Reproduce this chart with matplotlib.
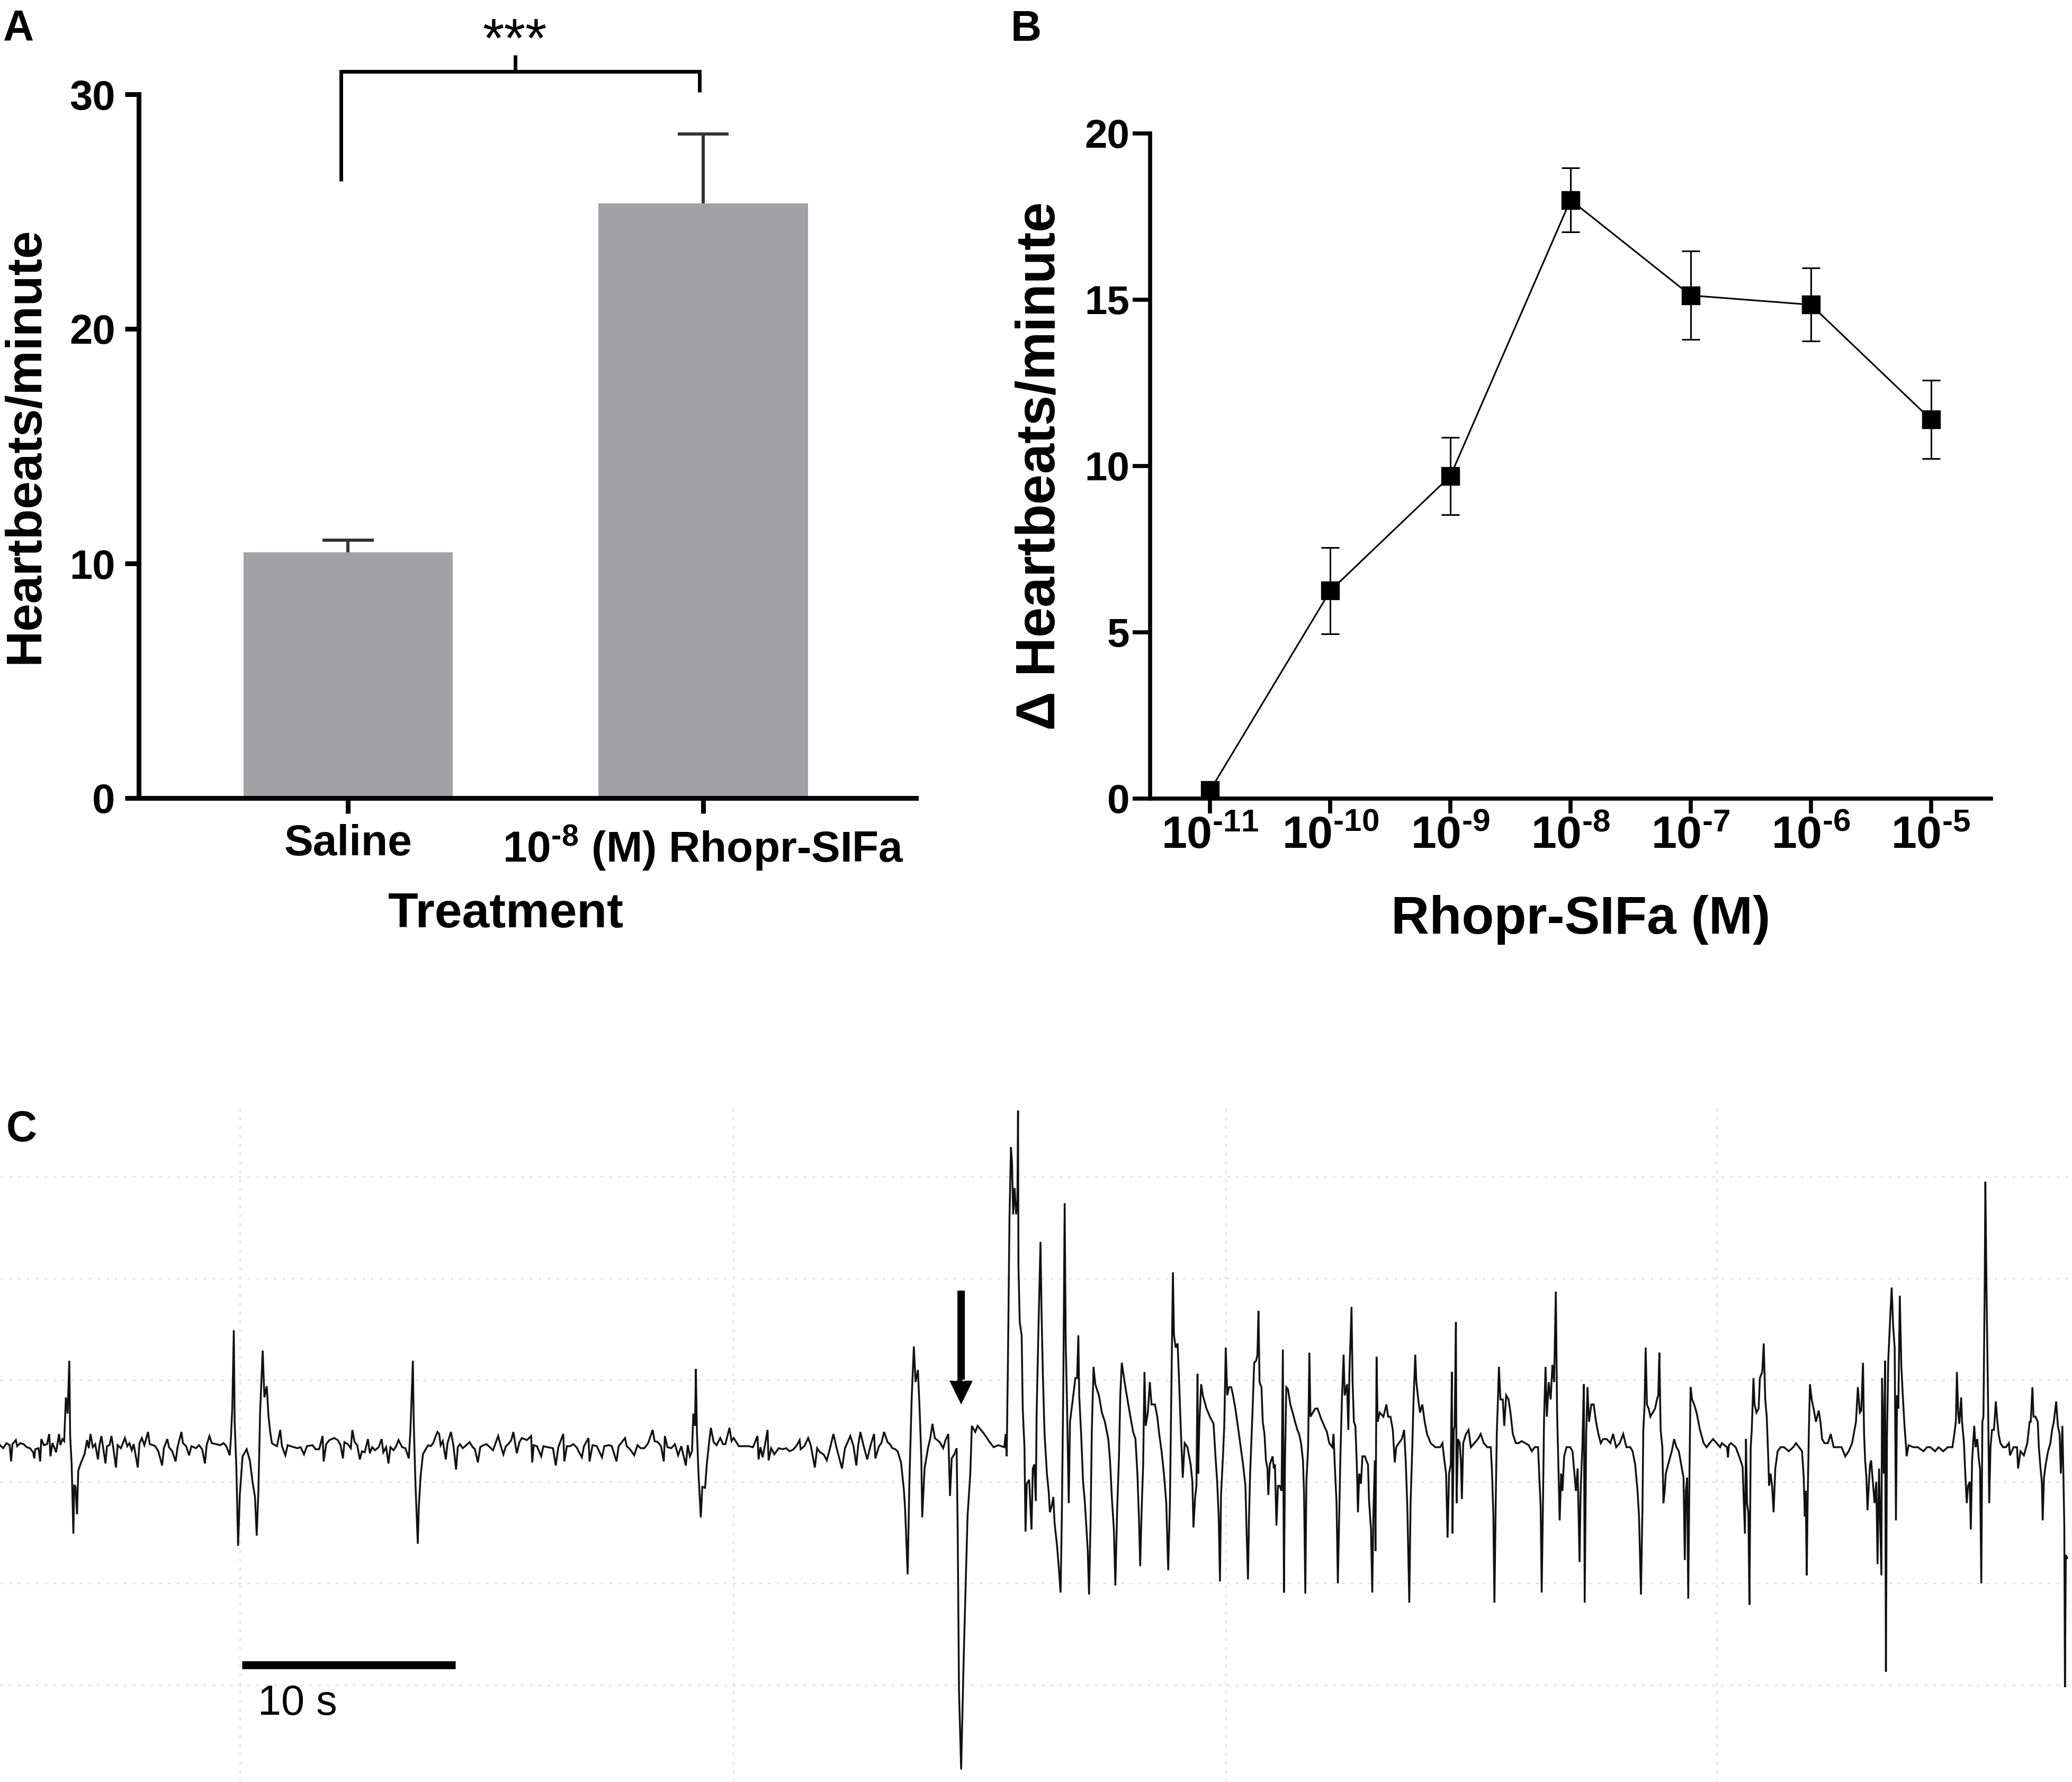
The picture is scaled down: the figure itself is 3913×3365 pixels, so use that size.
import matplotlib
matplotlib.use('Agg')
import matplotlib.pyplot as plt
from matplotlib.patches import FancyArrow
import numpy as np

plt.rcParams['font.family'] = ['Liberation Sans', 'DejaVu Sans']
plt.rcParams['font.weight'] = 'bold'
plt.rcParams['mathtext.fontset'] = 'custom'
plt.rcParams['mathtext.rm'] = 'Liberation Sans:bold'
plt.rcParams['mathtext.bf'] = 'Liberation Sans:bold'
plt.rcParams['mathtext.it'] = 'Liberation Sans:italic'

# ---------------- data ----------------
# Panel A
treatments = ['Saline', r'$\mathbf{10^{\text{-}8}}$ (M) Rhopr-SIFa']
a_means = [10.47, 25.34]
a_sems = [0.53, 2.96]
a_yticks = [0, 10, 20, 30]

# Panel B
b_log_conc = [-11, -10, -9, -8, -7, -6, -5]
b_means = [0.25, 6.25, 9.70, 18.00, 15.13, 14.85, 11.40]
b_sems = [0.20, 1.30, 1.16, 0.96, 1.33, 1.10, 1.18]
b_xticklabels = [r'$\mathbf{10^{\text{-}11}}$', r'$\mathbf{10^{\text{-}10}}$', r'$\mathbf{10^{\text{-}9}}$',
                 r'$\mathbf{10^{\text{-}8}}$', r'$\mathbf{10^{\text{-}7}}$', r'$\mathbf{10^{\text{-}6}}$',
                 r'$\mathbf{10^{\text{-}5}}$']
b_yticks = [0, 5, 10, 15, 20]

# Panel C: recording trace (time in s, amplitude in grid divisions)
seg_saline = [
    (0.00, 0.36), (0.15, 0.33), (0.30, 0.38), (0.45, 0.36), (0.52, 0.20), (0.58, 0.37), (0.74, 0.41),
    (0.80, 0.35), (0.95, 0.38), (1.10, 0.37), (1.25, 0.34), (1.40, 0.33), (1.55, 0.29), (1.60, 0.23),
    (1.65, 0.32), (1.80, 0.33), (1.88, 0.20), (1.93, 0.42), (2.05, 0.36), (2.20, 0.37), (2.30, 0.47),
    (2.36, 0.25), (2.45, 0.38), (2.55, 0.33), (2.62, 0.29), (2.70, 0.39), (2.76, 0.47), (2.82, 0.36),
    (2.92, 0.42), (3.00, 0.40),
    (3.08, 0.83), (3.16, 0.67), (3.24, 1.19), (3.28, 0.45), (3.35, 0.17), (3.43, -0.51), (3.47, -0.03),
    (3.53, -0.05), (3.60, -0.32), (3.66, 0.11), (3.79, 0.19), (3.95, 0.27), (4.07, 0.41), (4.15, 0.33),
    (4.23, 0.47), (4.34, 0.34),
    (4.45, 0.37), (4.58, 0.22), (4.65, 0.36), (4.74, 0.45), (4.82, 0.34), (4.93, 0.18), (5.00, 0.35),
    (5.12, 0.36), (5.21, 0.45), (5.30, 0.33), (5.42, 0.14), (5.50, 0.36), (5.65, 0.33), (5.84, 0.43),
    (5.95, 0.35), (6.05, 0.38), (6.16, 0.31), (6.25, 0.37), (6.44, 0.14), (6.52, 0.38), (6.63, 0.43),
    (6.75, 0.36), (6.92, 0.49), (7.00, 0.37), (7.15, 0.36), (7.26, 0.35), (7.40, 0.30), (7.58, 0.16),
    (7.66, 0.33), (7.82, 0.42), (7.90, 0.34), (8.05, 0.30), (8.21, 0.20), (8.30, 0.34), (8.48, 0.49),
    (8.55, 0.38), (8.70, 0.35), (8.84, 0.26), (8.95, 0.35), (9.16, 0.33), (9.30, 0.36), (9.45, 0.32),
    (9.58, 0.18), (9.66, 0.36), (9.79, 0.45), (9.90, 0.38), (10.11, 0.37), (10.30, 0.36), (10.45, 0.38),
    (10.58, 0.35), (10.74, 0.26), (10.80, 0.45),
    (10.86, 0.73), (10.93, 1.49), (10.97, 0.59), (11.05, 0.13), (11.13, -0.63), (11.21, -0.13),
    (11.34, 0.25), (11.53, 0.32), (11.68, 0.21), (11.81, -0.01), (11.92, -0.15), (12.00, -0.53),
    (12.08, -0.09), (12.16, 0.69), (12.28, 1.29), (12.36, 0.83), (12.47, 0.94), (12.55, 0.65),
    (12.63, 0.49), (12.71, 0.38), (12.85, 0.36), (12.95, 0.35), (13.10, 0.51), (13.18, 0.35),
    (13.34, 0.26), (13.45, 0.36), (13.58, 0.35), (13.75, 0.34), (13.90, 0.33), (14.05, 0.34), (14.21, 0.27),
    (14.35, 0.35), (14.61, 0.36), (14.75, 0.32), (14.92, 0.32), (15.08, 0.45), (15.13, 0.20), (15.25, 0.37),
    (15.40, 0.41), (15.63, 0.43), (15.79, 0.41), (15.92, 0.36), (16.03, 0.23), (16.10, 0.39), (16.26, 0.37),
    (16.40, 0.33), (16.47, 0.51), (16.58, 0.39), (16.70, 0.36), (16.82, 0.22), (16.92, 0.30), (17.05, 0.29),
    (17.20, 0.42), (17.29, 0.28), (17.40, 0.34), (17.53, 0.31), (17.70, 0.34), (17.84, 0.42), (17.92, 0.29),
    (18.05, 0.34), (18.16, 0.18), (18.25, 0.34), (18.40, 0.31), (18.52, 0.35), (18.63, 0.41), (18.80, 0.34),
    (18.95, 0.33), (19.11, 0.23),
    (19.18, 0.48), (19.23, 0.76), (19.30, 1.19), (19.34, 0.59), (19.42, -0.01), (19.53, -0.61),
    (19.58, -0.24), (19.66, 0.05), (19.77, 0.27), (19.90, 0.32), (20.02, 0.36), (20.13, 0.35),
    (20.25, 0.38), (20.37, 0.45), (20.45, 0.49),
    (20.53, 0.47), (20.60, 0.36), (20.70, 0.40), (20.84, 0.22), (20.92, 0.38), (21.08, 0.49), (21.20, 0.35),
    (21.32, 0.12), (21.40, 0.34), (21.50, 0.37), (21.63, 0.33), (21.80, 0.36), (21.95, 0.39), (22.10, 0.34),
    (22.20, 0.32), (22.34, 0.19), (22.45, 0.34), (22.60, 0.36), (22.74, 0.37), (22.90, 0.34), (23.05, 0.31),
    (23.20, 0.40), (23.29, 0.45), (23.40, 0.36), (23.53, 0.27), (23.65, 0.35), (23.76, 0.37), (23.90, 0.41),
    (24.00, 0.49), (24.08, 0.38), (24.16, 0.28), (24.28, 0.39), (24.40, 0.43), (24.52, 0.42), (24.63, 0.41),
]
seg_application = [
    (24.83, 0.45), (24.88, 0.19), (24.95, 0.36), (25.10, 0.35), (25.30, 0.25), (25.40, 0.35), (25.60, 0.34),
    (25.85, 0.33), (25.98, 0.16), (26.10, 0.34), (26.33, 0.47), (26.38, 0.20), (26.50, 0.35), (26.65, 0.35),
    (26.80, 0.37), (26.95, 0.34), (27.20, 0.24), (27.30, 0.35), (27.51, 0.43), (27.56, 0.20), (27.70, 0.36),
    (27.90, 0.35), (28.14, 0.24), (28.25, 0.35), (28.46, 0.36), (28.60, 0.35), (28.82, 0.20), (28.92, 0.35),
    (29.22, 0.43), (29.30, 0.35), (29.45, 0.32), (29.65, 0.26), (29.80, 0.36), (29.95, 0.33), (30.12, 0.33),
    (30.30, 0.38), (30.51, 0.51), (30.60, 0.40), (30.75, 0.39), (30.90, 0.35), (31.03, 0.20), (31.08, 0.45),
    (31.20, 0.34), (31.38, 0.33), (31.55, 0.37), (31.70, 0.26), (31.85, 0.35), (32.06, 0.16), (32.15, 0.36),
    (32.25, 0.25),
    (32.35, 0.30), (32.41, 0.67), (32.49, 0.55), (32.53, 1.11), (32.58, 0.49), (32.65, 0.09), (32.76, -0.35),
    (32.83, -0.05), (32.96, -0.06), (33.04, 0.17), (33.15, 0.39), (33.23, 0.53), (33.36, 0.39),
    (33.50, 0.36), (33.67, 0.43), (33.80, 0.37), (33.91, 0.37), (34.10, 0.53), (34.20, 0.40), (34.30, 0.43),
    (34.54, 0.35), (34.75, 0.35), (35.01, 0.35), (35.20, 0.34), (35.41, 0.45), (35.46, 0.22), (35.55, 0.34),
    (35.65, 0.24), (35.75, 0.35), (35.88, 0.51), (35.93, 0.21), (36.05, 0.33), (36.20, 0.27), (36.40, 0.33),
    (36.59, 0.32), (36.75, 0.33), (36.91, 0.30), (37.10, 0.32), (37.25, 0.36), (37.38, 0.41), (37.43, 0.32),
    (37.60, 0.35), (37.78, 0.43), (37.90, 0.36), (38.09, 0.14), (38.20, 0.33), (38.33, 0.29), (38.50, 0.27),
    (38.65, 0.21), (38.80, 0.33), (38.96, 0.47), (39.10, 0.34), (39.36, 0.13), (39.50, 0.33), (39.75, 0.45),
    (39.90, 0.35), (40.03, 0.16), (40.12, 0.36), (40.22, 0.49), (40.35, 0.37), (40.54, 0.22), (40.70, 0.36),
    (40.86, 0.47), (40.92, 0.23), (41.09, 0.35), (41.20, 0.38), (41.33, 0.49), (41.49, 0.39), (41.60, 0.37),
    (41.72, 0.33), (41.85, 0.32), (41.96, 0.30),
    (42.12, 0.19), (42.25, -0.07), (42.31, -0.26), (42.43, -0.91), (42.51, -0.01), (42.62, 0.83),
    (42.72, 1.33), (42.80, 0.98), (42.91, 1.10), (42.99, 0.71), (43.07, 0.23), (43.11, -0.35),
    (43.22, 0.13), (43.38, 0.33), (43.49, 0.43), (43.59, 0.57), (43.70, 0.43), (43.93, 0.39),
    (44.09, 0.33), (44.20, 0.41), (44.33, 0.47), (44.41, -0.14), (44.49, 0.23), (44.61, 0.27),
    (44.72, 0.33), (44.77, -0.49), (44.83, -2.05), (44.93, -2.83), (45.06, -1.65), (45.23, -0.34),
    (45.36, 0.09), (45.43, 0.55), (45.59, 0.49), (45.70, 0.55),
]
seg_response1 = [
    (46.01, 0.47), (46.23, 0.40), (46.45, 0.34), (46.67, 0.36), (46.95, 0.34), (47.01, 0.47), (47.06, 0.25),
    (47.12, 1.21), (47.19, 2.59), (47.26, 3.29), (47.31, 3.14), (47.36, 2.63), (47.43, 2.89), (47.50, 2.63),
    (47.56, 2.76), (47.59, 3.65), (47.61, 2.12), (47.67, 1.57), (47.76, 1.44), (47.81, 0.72), (47.89, 0.34),
    (47.94, -0.49), (48.00, -0.02), (48.11, 0.02), (48.22, -0.47), (48.28, 0.13), (48.35, 0.17),
    (48.42, -0.19), (48.46, 0.68), (48.55, 1.55), (48.64, 2.36), (48.69, 1.66), (48.75, 1.06), (48.83, 0.47),
    (48.94, 0.08), (49.02, -0.09), (49.08, -0.30), (49.16, -0.24), (49.24, -0.15), (49.30, -0.41),
    (49.41, -0.62), (49.49, -0.83), (49.58, -1.09), (49.64, -0.30), (49.71, 1.02), (49.77, 2.74),
    (49.82, 1.36), (49.88, 0.76), (49.96, -0.21), (50.02, 0.59), (50.15, 0.81), (50.27, 1.02), (50.35, 1.02),
    (50.41, 1.44), (50.45, 0.85), (50.54, 0.47), (50.63, 0.00), (50.71, -0.19), (50.78, -0.43),
    (50.85, -0.68), (50.91, -1.11), (50.98, -0.41), (51.04, 0.51), (51.12, 1.13), (51.20, 0.96),
    (51.37, 0.85), (51.51, 0.68), (51.65, 0.59), (51.81, 0.42), (51.89, 0.21), (51.98, -0.17),
    (52.07, -0.47), (52.14, -1.02), (52.22, -0.30), (52.31, 0.25), (52.37, 0.85), (52.44, 1.17),
    (52.53, 1.04), (52.64, 0.89), (52.81, 0.68), (52.97, 0.49), (53.08, 0.42), (53.17, 0.08),
    (53.25, -0.41), (53.30, -0.83), (53.37, -0.26), (53.44, 0.17), (53.50, 1.08), (53.56, 0.55),
    (53.66, 0.68), (53.75, 0.98), (53.83, 0.76), (53.99, 0.76), (54.10, 0.64), (54.19, 0.47),
    (54.30, 0.30), (54.41, 0.08), (54.52, -0.21), (54.61, -0.87), (54.69, -0.21), (54.76, 0.93),
    (54.83, 2.06), (54.88, 1.44), (54.96, 1.32), (55.05, 1.36), (55.13, 0.93), (55.20, 0.51),
    (55.29, 0.04), (55.38, 0.38), (55.51, 0.34), (55.66, 0.17), (55.74, 0.00), (55.79, -0.45),
    (55.87, -0.15), (55.93, -0.04), (55.98, 1.06), (56.01, 0.08), (56.07, 0.59), (56.15, 0.96),
    (56.23, 0.85), (56.40, 0.72), (56.56, 0.64), (56.73, 0.57), (56.82, 0.25), (56.90, 0.00),
    (56.97, -0.34), (57.03, -0.98), (57.08, -0.13), (57.17, 0.25), (57.23, 0.55), (57.30, 1.32),
    (57.37, 0.85), (57.45, 0.93), (57.56, 0.93), (57.64, 0.85), (57.75, 0.72), (57.89, 0.51),
    (58.00, 0.34), (58.11, 0.17), (58.22, -0.04), (58.28, -0.53), (58.34, -0.96), (58.39, -0.34),
    (58.44, 0.08), (58.55, 0.68), (58.63, 1.17), (58.72, 1.19), (58.78, 1.25), (58.83, 1.68),
    (58.88, 0.98), (58.97, 0.93), (59.03, 0.59), (59.11, 0.47), (59.18, 0.21), (59.25, 0.13),
    (59.29, -0.13), (59.36, 0.17), (59.49, 0.25), (59.55, 0.13), (59.60, 0.17), (59.67, -0.43),
    (59.74, -0.04), (59.82, -0.04), (59.91, -0.09), (59.97, 1.30), (60.02, -1.09), (60.07, 0.21),
    (60.13, 0.93), (60.21, 0.91), (60.32, 0.76), (60.43, 0.68), (60.54, 0.59), (60.65, 0.51),
    (60.73, 0.47), (60.82, 0.38), (60.91, 0.21), (60.96, -0.11), (61.02, -1.10), (61.07, 0.00),
    (61.15, 0.34), (61.21, 1.27), (61.26, 0.64), (61.37, 0.68), (61.48, 0.72), (61.59, 0.72),
    (61.76, 0.62), (61.90, 0.55), (62.03, 0.49), (62.14, 0.38), (62.28, 0.34), (62.34, 0.47),
    (62.40, 0.15), (62.48, -0.21), (62.54, -1.00), (62.61, -0.26), (62.66, 0.25), (62.73, 0.81),
    (62.81, 1.25), (62.86, 0.85), (62.97, 0.96), (63.03, 0.51), (63.08, 1.06),
]
seg_response2 = [
    (63.18, 1.72), (63.23, 0.98), (63.29, 0.59), (63.36, 0.55), (63.43, 0.15), (63.48, -0.30), (63.54, 0.08),
    (63.62, -0.02), (63.69, 0.25), (63.81, 0.25), (63.87, 0.21), (63.95, 0.17), (64.00, -0.19),
    (64.09, -0.47), (64.15, -1.09), (64.20, -0.34), (64.27, 0.21), (64.30, -0.68), (64.35, 1.23),
    (64.40, 0.59), (64.50, 0.68), (64.67, 0.64), (64.81, 0.76), (64.89, 0.64), (65.00, 0.64),
    (65.11, 0.51), (65.20, 0.19), (65.27, 0.34), (65.39, 0.38), (65.53, 0.42), (65.64, 0.51),
    (65.72, 0.17), (65.79, -0.26), (65.88, -1.19), (65.94, -0.21), (66.02, 0.34), (66.08, 0.81),
    (66.16, 1.25), (66.21, 0.98), (66.30, 0.81), (66.38, 0.68), (66.49, 0.76), (66.60, 0.59),
    (66.71, 0.47), (66.88, 0.38), (67.10, 0.34), (67.32, 0.34), (67.43, 0.38), (67.52, 0.21),
    (67.60, 0.08), (67.67, -0.55), (67.74, 0.08), (67.82, 0.17), (67.87, 1.08), (67.90, -0.51),
    (67.96, 0.51), (68.00, 0.55), (68.06, 1.57), (68.09, -0.21), (68.16, 0.42), (68.24, 0.38),
    (68.29, 0.21), (68.34, -0.17), (68.40, 0.38), (68.53, 0.47), (68.65, 0.51), (68.76, 0.34),
    (68.92, 0.38), (69.09, 0.42), (69.22, 0.47), (69.36, 0.38), (69.53, 0.34), (69.69, 0.34),
    (69.75, 0.08), (69.81, -0.34), (69.86, -1.19), (69.92, -0.21), (69.97, 0.47), (70.03, 0.85),
    (70.07, 1.13), (70.14, 0.81), (70.25, 0.81), (70.32, 0.55), (70.41, 0.85), (70.52, 0.81),
    (70.61, 0.68), (70.72, 0.47), (70.86, 0.38), (70.99, 0.38), (71.13, 0.40), (71.30, 0.38),
    (71.46, 0.36), (71.61, 0.30), (71.74, 0.34), (71.90, 0.34), (71.96, 0.04), (72.02, -0.24),
    (72.07, -1.09), (72.13, -0.21), (72.18, 0.62), (72.25, 1.13), (72.31, 0.64), (72.40, 0.98),
    (72.49, 0.81), (72.57, 1.15), (72.65, 0.98), (72.73, 1.87), (72.79, 0.68), (72.84, 0.25),
    (72.91, -0.38), (72.98, 0.08), (73.04, -0.09), (73.12, 0.25), (73.23, 0.34), (73.40, 0.34),
    (73.51, 0.30), (73.60, 0.08), (73.67, -0.09), (73.75, 0.13), (73.84, -0.79), (73.89, -0.09),
    (73.97, 0.34), (74.04, 0.96), (74.08, -1.19), (74.15, 0.47), (74.21, 0.93), (74.28, 0.59),
    (74.39, 0.76), (74.50, 0.76), (74.61, 0.59), (74.72, 0.47), (74.83, 0.38), (74.94, 0.42),
    (75.11, 0.42), (75.28, 0.38), (75.41, 0.47), (75.55, 0.34), (75.72, 0.38), (75.88, 0.47),
    (76.03, 0.34), (76.21, 0.34), (76.32, 0.30), (76.44, 0.17), (76.55, -0.09), (76.62, -0.34),
    (76.71, -1.11), (76.78, -0.26), (76.82, 0.51), (76.88, 0.76), (76.93, 1.32), (76.99, 0.76),
    (77.07, 0.72), (77.15, 0.64), (77.26, 0.68), (77.37, 0.72), (77.46, 0.81), (77.52, 0.85),
    (77.57, 1.27), (77.63, 0.51), (77.71, 0.34), (77.76, -0.21), (77.82, -0.09), (77.87, 0.08),
    (77.98, 0.17), (78.15, 0.30), (78.26, 0.42), (78.37, 0.34), (78.48, 0.30), (78.59, 0.17),
    (78.70, 0.04), (78.76, -0.77), (78.81, -0.09), (78.87, 0.04), (78.92, -1.15), (78.98, 0.13),
    (79.03, 0.93), (79.10, 0.81), (79.20, 0.76), (79.31, 0.68), (79.47, 0.51), (79.64, 0.38),
    (79.78, 0.34), (79.92, 0.38), (80.08, 0.42), (80.25, 0.38), (80.41, 0.34),
]
seg_response3 = [
    (80.49, 0.38), (80.73, 0.34), (80.78, 0.24), (80.82, 0.36), (80.92, 0.38), (81.14, 0.34), (81.30, 0.25),
    (81.46, 0.15), (81.57, -0.51), (81.62, 0.42), (81.67, -0.21), (81.73, -0.30), (81.78, -1.21),
    (81.84, 0.34), (81.89, 0.51), (81.97, 1.02), (82.02, 0.76), (82.11, 0.68), (82.21, 0.72), (82.27, 1.02),
    (82.38, 1.08), (82.45, 1.36), (82.52, 0.81), (82.59, 0.64), (82.65, 0.30), (82.70, -0.04), (82.77, 0.08),
    (82.84, -0.04), (82.91, -0.30), (82.99, 0.13), (83.10, 0.30), (83.24, 0.34), (83.40, 0.34), (83.62, 0.30),
    (83.83, 0.34), (83.96, 0.38), (84.10, 0.34), (84.24, 0.30), (84.32, 0.04), (84.37, -0.34), (84.41, -0.09),
    (84.46, -0.92), (84.50, -0.21), (84.56, 0.51), (84.61, 0.96), (84.69, 0.81), (84.78, 0.72), (84.89, 0.59),
    (85.02, 0.70), (85.10, 0.59), (85.18, 0.42), (85.29, 0.38), (85.45, 0.38), (85.58, 0.47), (85.72, 0.34),
    (85.88, 0.34), (86.09, 0.34), (86.26, 0.25), (86.42, 0.30), (86.58, 0.38), (86.69, 0.51), (86.76, 0.59),
    (86.85, 0.93), (86.94, 0.68), (87.01, 0.70), (87.09, 1.17), (87.14, 0.47), (87.19, 0.21), (87.25, 0.04),
    (87.30, -0.28), (87.37, 0.00), (87.42, 0.17), (87.47, 0.21), (87.55, 0.00), (87.63, -0.21), (87.71, 0.00),
    (87.77, -0.81), (87.84, 0.13), (87.95, -0.92), (87.98, 1.02), (88.06, 0.08), (88.12, 1.19),
    (88.16, -1.87), (88.21, 0.42), (88.27, 1.19), (88.36, 1.61), (88.43, 1.91), (88.50, 1.53), (88.57, 1.32),
    (88.63, -0.38), (88.68, 0.85), (88.74, 0.72), (88.81, 1.83), (88.88, 1.15), (88.95, 0.85), (89.03, 0.55),
    (89.09, 0.38), (89.13, 0.25), (89.22, 0.36), (89.44, 0.34), (89.65, 0.34), (89.92, 0.30), (90.08, 0.34),
    (90.24, 0.34), (90.46, 0.30), (90.62, 0.34), (90.84, 0.30), (91.05, 0.34), (91.27, 0.34), (91.36, 0.47),
    (91.43, 0.59), (91.48, 1.08), (91.54, 0.68), (91.59, 0.57), (91.68, 0.83), (91.72, 0.59), (91.81, 0.38),
    (91.86, 0.13), (91.94, -0.21), (92.00, -0.04), (92.08, 0.00), (92.13, -0.47), (92.19, 0.21), (92.24, 0.38),
    (92.29, 0.55), (92.35, 0.34), (92.43, 0.42), (92.51, 0.21), (92.56, 0.13), (92.62, -1.00), (92.67, 0.59),
    (92.72, 0.64), (92.78, 1.95), (92.81, 2.95), (92.86, 1.95), (92.94, 0.72), (92.99, -0.21), (93.05, 0.34),
    (93.12, 0.51), (93.21, 0.51), (93.30, 0.79), (93.37, 0.59), (93.43, 0.47), (93.51, 0.38), (93.64, 0.34),
    (93.77, 0.34), (93.91, 0.38), (93.96, 0.26), (94.13, 0.34), (94.29, 0.34), (94.34, 0.13), (94.45, 0.30),
    (94.61, 0.26), (94.77, 0.38), (94.88, 0.59), (94.93, 0.59), (95.01, 0.93), (95.06, 0.64), (95.15, 0.64),
    (95.26, 0.59), (95.31, 0.34), (95.39, 0.13), (95.45, 0.00), (95.49, -0.38), (95.55, 0.04), (95.63, 0.17),
    (95.74, 0.30), (95.85, 0.38), (95.93, 0.51), (96.01, 0.59), (96.12, 0.79), (96.20, 0.55), (96.28, 0.47),
    (96.34, 0.08), (96.41, 0.55), (96.46, 0.04), (96.50, -0.43), (96.53, -2.02), (96.57, -0.72),
    (96.64, -0.75),
]
c_grid_t = [11.21, 34.28, 57.30, 80.25]
c_grid_v = [-2, -1, 0, 1, 2, 3]
scalebar_s = 10
arrow_t = 44.93

# ---------------- figure ----------------
W, H = 3913, 3365
fig = plt.figure(figsize=(W / 100, H / 100), dpi=100)
fig.patch.set_facecolor('white')


def rect(l, t, r, b):
    return [l / W, 1 - b / H, (r - l) / W, (b - t) / H]


def fx(px):
    return px / W


def fy(py):
    return 1 - py / H


# ---------- Panel A ----------
axA = fig.add_axes(rect(262, 178, 1730, 1507))
xa = np.arange(len(treatments))
a_tops = np.array(a_means) + np.array(a_sems)
axA.bar(xa, a_means, width=0.59, color='#a2a1a6', zorder=1)
axA.vlines(xa, a_means, a_tops, color='#333333', lw=4.3, zorder=2)
axA.hlines(a_tops, xa - 0.072, xa + 0.072, color='#333333', lw=4.3, zorder=2)
axA.set_xlim(-0.59, 1.60)
axA.set_ylim(0, 30)
axA.set_yticks(a_yticks)
axA.set_xticks(xa)
axA.set_xticklabels(treatments)
for s in ['top', 'right']:
    axA.spines[s].set_visible(False)
for s in ['left', 'bottom']:
    axA.spines[s].set_linewidth(6.5)
axA.tick_params(axis='y', length=19, width=6.5, labelsize=56, pad=13)
axA.tick_params(axis='x', length=21, width=6.5, labelsize=59, pad=14)
# significance bracket
axA.plot([-0.02, -0.02, 0.99, 0.99], [26.3, 30.98, 30.98, 30.08], color='black',
         lw=5, clip_on=False, solid_joinstyle='miter', solid_capstyle='butt')
axA.plot([0.47, 0.47], [30.98, 31.68], color='black', lw=5, clip_on=False,
         solid_capstyle='butt')
axA.text(0.47, 31.6, '***', ha='center', va='baseline', fontsize=75,
         fontweight='normal', clip_on=False)
fig.text(fx(955), fy(1751), 'Treatment', ha='center', va='baseline', fontsize=67)
fig.text(fx(48), fy(841), 'Heartbeats/minute', ha='center', va='center',
         rotation=90, fontsize=68)

# ---------- Panel B ----------
axB = fig.add_axes(rect(2172, 252, 3760, 1508))
axB.errorbar(b_log_conc, b_means, yerr=b_sems, fmt='s-', color='black', ms=24,
             lw=2.2, elinewidth=2.2, capsize=12, capthick=2.2, clip_on=False, zorder=3)
axB.set_xlim(-11.5, -4.5)
axB.set_ylim(0, 20)
axB.set_yticks(b_yticks)
axB.set_xticks(b_log_conc)
axB.set_xticklabels(b_xticklabels)
for s in ['top', 'right']:
    axB.spines[s].set_visible(False)
for s in ['left', 'bottom']:
    axB.spines[s].set_linewidth(5.5)
axB.tick_params(axis='y', length=24, width=5.5, labelsize=55, pad=4)
axB.tick_params(axis='x', length=20, width=5.5, labelsize=62, pad=3)
fig.text(fx(2985), fy(1763), 'Rhopr-SIFa (M)', ha='center', va='baseline', fontsize=72)
fig.text(fx(1965), fy(881), r'$\Delta$ Heartbeats/minute', ha='center',
         va='center', rotation=90, fontsize=74)

# ---------- Panel C ----------
axC = fig.add_axes(rect(0, 2085, 3913, 3365))
trace = seg_saline + seg_application + seg_response1 + seg_response2 + seg_response3
tt = [p[0] for p in trace]
vv = [p[1] for p in trace]
axC.plot(tt, vv, color='#111111', lw=2.5, solid_joinstyle='miter', zorder=3)
axC.set_xlim(0, 96.86)
axC.set_ylim(-2.953, 3.714)
axC.set_xticks(c_grid_t)
axC.set_yticks(c_grid_v)
axC.grid(True, color='#e2e2e2', linestyle=(0, (2, 4)), lw=2, zorder=0)
axC.tick_params(length=0, labelbottom=False, labelleft=False)
for s in axC.spines.values():
    s.set_visible(False)
# scale bar
axC.plot([11.3, 11.3 + scalebar_s], [-1.80, -1.80], color='black', lw=10.8,
         solid_capstyle='butt')
axC.text(12.05, -2.29, '%d s' % scalebar_s, ha='left', va='baseline', fontsize=57,
         fontweight='normal')
# application arrow
axC.add_patch(FancyArrow(arrow_t, 1.88, 0, -1.12, width=0.347, head_width=1.09,
                         head_length=0.234, length_includes_head=True,
                         color='black', lw=0))

# panel letters
fig.text(fx(6), fy(17), 'A', ha='left', va='top', fontsize=58)
fig.text(fx(1909), fy(18), 'B', ha='left', va='top', fontsize=58)
fig.text(fx(12), fy(2096), 'C', ha='left', va='top', fontsize=58)

fig.savefig('out.png', dpi=100, facecolor='white')
